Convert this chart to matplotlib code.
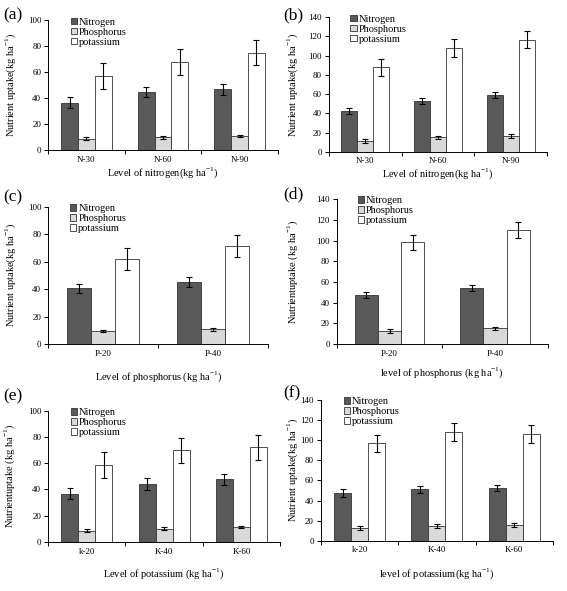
import matplotlib
matplotlib.use('Agg')
import matplotlib.pyplot as plt
import numpy as np

plt.rcParams['font.family'] = ['Liberation Serif', 'DejaVu Serif']
plt.rcParams['mathtext.fontset'] = 'custom'
plt.rcParams['mathtext.rm'] = 'Liberation Serif'
plt.rcParams['axes.linewidth'] = 0.7

series = ['Nitrogen', 'Phosphorus', 'potassium']
colors = ['#595959', '#d9d9d9', '#ffffff']

# panel data: categories, means (N, P, K) and error bars
cats_a = ['N-30', 'N-60', 'N-90']
vals_a = [[36.5, 44.8, 46.8], [8.8, 10.0, 10.8], [57.2, 67.8, 75.0]]
errs_a = [[4.1, 3.8, 4.2], [1.0, 1.2, 1.0], [10.0, 9.8, 9.6]]

cats_b = ['N-30', 'N-60', 'N-90']
vals_b = [[42.5, 52.5, 59.0], [11.7, 15.0, 16.5], [87.7, 108.0, 116.5]]
errs_b = [[3.6, 3.0, 3.0], [2.0, 2.0, 2.0], [9.3, 9.0, 9.0]]

cats_c = ['P-20', 'P-40']
vals_c = [[40.7, 45.2], [9.5, 10.8], [62.2, 71.4]]
errs_c = [[3.3, 3.4], [1.0, 1.0], [7.9, 7.9]]

cats_d = ['P-20', 'P-40']
vals_d = [[47.2, 54.2], [12.8, 15.2], [98.3, 110.2]]
errs_d = [[2.9, 2.6], [2.0, 1.3], [7.2, 7.4]]

cats_e = ['k-20', 'K-40', 'K-60']
vals_e = [[36.8, 44.2, 47.6], [8.6, 10.2, 11.4], [58.6, 70.0, 72.0]]
errs_e = [[4.4, 4.3, 4.0], [1.0, 1.0, 1.0], [9.7, 9.6, 9.4]]

cats_f = ['k-20', 'K-40', 'K-60']
vals_f = [[48.0, 51.3, 53.0], [12.8, 14.9, 15.4], [97.0, 108.3, 106.3]]
errs_f = [[4.0, 3.5, 3.0], [2.0, 2.0, 2.0], [8.4, 8.6, 8.6]]

ylab = 'Nutrient uptake(kg ha$^{-1}$)'
ylab2 = 'Nutrientuptake (kg ha$^{-1}$)'

panels = [
    ('(a)', cats_a, vals_a, errs_a, 100, 'Level of nitrogen(kg ha$^{-1}$)', ylab,
     [0.085, 0.746, 0.405, 0.220], 1.5, 30),
    ('(b)', cats_b, vals_b, errs_b, 140, 'Level of nitrogen(kg ha$^{-1}$)', ylab,
     [0.580, 0.743, 0.385, 0.228], 1, 29),
    ('(c)', cats_c, vals_c, errs_c, 100, 'Level of phosphorus (kg ha$^{-1}$)', ylab,
     [0.085, 0.418, 0.388, 0.232], 8.5, 30),
    ('(d)', cats_d, vals_d, errs_d, 140, 'level of phosphorus (kg ha$^{-1}$)', ylab2,
     [0.594, 0.418, 0.372, 0.245], 6, 37),
    ('(e)', cats_e, vals_e, errs_e, 100, 'Level of potassium (kg ha$^{-1}$)', ylab2,
     [0.085, 0.083, 0.409, 0.222], 8, 31),
    ('(f)', cats_f, vals_f, errs_f, 140, 'level of potassium(kg ha$^{-1}$)', ylab,
     [0.566, 0.085, 0.409, 0.238], 9, 21),
]
tag_pos = {'(a)': (0.005, 0.987), '(b)': (0.500, 0.987), '(c)': (0.005, 0.680),
           '(d)': (0.500, 0.685), '(e)': (0.005, 0.343), '(f)': (0.500, 0.348)}

fig = plt.figure(figsize=(5.67, 5.91), dpi=100)
w = 0.22
for tag, cats, vals, errs, ymax, xl, yl, rect, lpad, ydist in panels:
    ax = fig.add_axes(rect)
    x = np.arange(len(cats))
    for i in range(3):
        ax.bar(x + (i - 1) * w, vals[i], w, color=colors[i], edgecolor='#333333',
               linewidth=0.6, label=series[i])
        ax.errorbar(x + (i - 1) * w, vals[i], yerr=errs[i], fmt='none',
                    ecolor='black', elinewidth=0.8, capsize=2.5, capthick=0.8)
    ax.set_xlim(-0.5, len(cats) - 0.5)
    ax.set_ylim(0, ymax)
    ax.set_yticks(np.arange(0, ymax + 1, 20))
    ax.set_xticks(x)
    ax.set_xticklabels(cats)
    ax.set_xticks(np.arange(len(cats) + 1) - 0.5, minor=True)
    ax.tick_params(axis='x', which='major', length=0, labelsize=6.5, pad=4)
    ax.tick_params(axis='x', which='minor', length=3, width=0.7)
    ax.tick_params(axis='y', length=3, width=0.7, labelsize=6.5, pad=2)
    ax.spines['top'].set_visible(False)
    ax.spines['right'].set_visible(False)
    ax.set_xlabel(xl, fontsize=7.5, labelpad=lpad)
    ax.set_ylabel(yl, fontsize=7.5)
    ax.yaxis.set_label_coords(-ydist / (rect[2] * 567), 0.5)
    ax.legend(loc='upper left', bbox_to_anchor=(0.08, 1.05), frameon=False,
              fontsize=7.5, handlelength=0.6, handleheight=0.6, handletextpad=0.2,
              labelspacing=0.1, borderaxespad=0)
    fig.text(tag_pos[tag][0], tag_pos[tag][1], tag, fontsize=12.5, va='top', ha='left')

plt.savefig('out.png', dpi=100)
